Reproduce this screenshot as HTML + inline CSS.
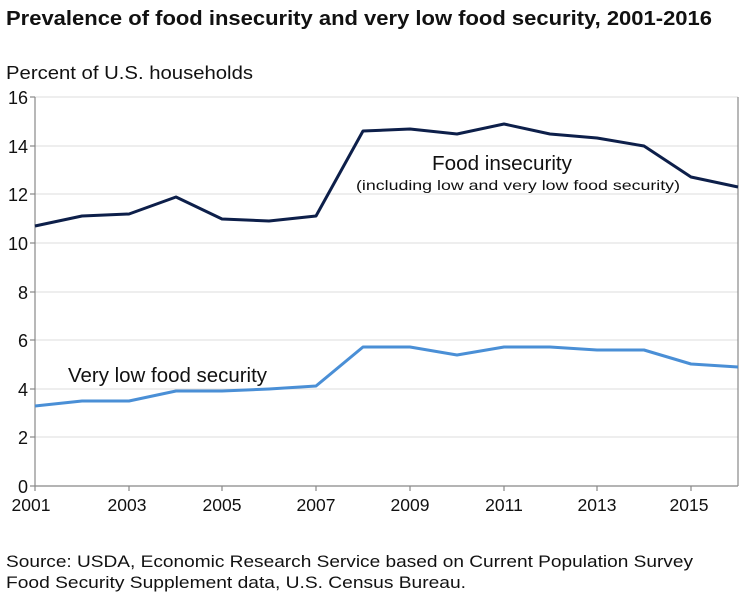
<!DOCTYPE html>
<html><head><meta charset="utf-8"><style>
body{margin:0;background:#fff;width:754px;height:603px;overflow:hidden;font-family:"Liberation Sans",sans-serif}
</style></head><body>
<svg width="754" height="603" xmlns="http://www.w3.org/2000/svg" font-family="Liberation Sans, sans-serif">
<text x="6" y="25" font-size="20" font-weight="bold" fill="#111" textLength="706" lengthAdjust="spacingAndGlyphs">Prevalence of food insecurity and very low food security, 2001-2016</text>
<text x="6" y="79" font-size="18.5" fill="#111" textLength="247" lengthAdjust="spacingAndGlyphs">Percent of U.S. households</text>
<g stroke="#ddd" stroke-width="1">
<line x1="35" x2="738" y1="97" y2="97"/><line x1="35" x2="738" y1="146" y2="146"/>
<line x1="35" x2="738" y1="194" y2="194"/><line x1="35" x2="738" y1="243" y2="243"/>
<line x1="35" x2="738" y1="292" y2="292"/><line x1="35" x2="738" y1="340" y2="340"/>
<line x1="35" x2="738" y1="389" y2="389"/><line x1="35" x2="738" y1="437" y2="437"/>
</g>
<g stroke="#888" stroke-width="1.2">
<line x1="35" x2="35" y1="97" y2="486"/><line x1="35" x2="738" y1="486" y2="486"/>
<line x1="738" x2="738" y1="97" y2="486"/>
<line x1="30" x2="35" y1="97" y2="97"/><line x1="30" x2="35" y1="146" y2="146"/><line x1="30" x2="35" y1="194" y2="194"/><line x1="30" x2="35" y1="243" y2="243"/><line x1="30" x2="35" y1="292" y2="292"/><line x1="30" x2="35" y1="340" y2="340"/><line x1="30" x2="35" y1="389" y2="389"/><line x1="30" x2="35" y1="437" y2="437"/><line x1="30" x2="35" y1="486" y2="486"/>
<line x1="35" x2="35" y1="486" y2="491"/><line x1="129" x2="129" y1="486" y2="491"/><line x1="222" x2="222" y1="486" y2="491"/><line x1="316" x2="316" y1="486" y2="491"/><line x1="410" x2="410" y1="486" y2="491"/><line x1="504" x2="504" y1="486" y2="491"/><line x1="597" x2="597" y1="486" y2="491"/><line x1="691" x2="691" y1="486" y2="491"/>
</g>
<g font-size="18" fill="#111" text-anchor="end">
<text x="28" y="104">16</text><text x="28" y="153">14</text><text x="28" y="201">12</text><text x="28" y="250">10</text><text x="28" y="299">8</text><text x="28" y="347">6</text><text x="28" y="396">4</text><text x="28" y="444">2</text><text x="28" y="493">0</text>
</g>
<g font-size="17.5" fill="#111" text-anchor="middle">
<text x="31" y="511">2001</text><text x="127" y="511">2003</text><text x="222" y="511">2005</text><text x="316" y="511">2007</text><text x="410" y="511">2009</text><text x="504" y="511">2011</text><text x="597" y="511">2013</text><text x="689" y="511">2015</text>
</g>
<polyline fill="none" stroke="#0d1f4a" stroke-width="3" stroke-linejoin="round" points="35,226 82,216 129,214 176,197 222,219 269,221 316,216 363,131 410,129 457,134 504,124 550,134 597,138 644,146 691,177 738,187"/>
<polyline fill="none" stroke="#4a8fd6" stroke-width="3" stroke-linejoin="round" points="35,406 82,401 129,401 176,391 222,391 269,389 316,386 363,347 410,347 457,355 504,347 550,347 597,350 644,350 691,364 738,367"/>
<text x="432" y="170" font-size="20" fill="#111" textLength="140" lengthAdjust="spacingAndGlyphs">Food insecurity</text>
<text x="356" y="190" font-size="14" fill="#111" textLength="324" lengthAdjust="spacingAndGlyphs">(including low and very low food security)</text>
<text x="68" y="382" font-size="20" fill="#111" textLength="199" lengthAdjust="spacingAndGlyphs">Very low food security</text>
<text x="6" y="567" font-size="17" fill="#111" textLength="687" lengthAdjust="spacingAndGlyphs">Source: USDA, Economic Research Service based on Current Population Survey</text>
<text x="6" y="588" font-size="17" fill="#111" textLength="460" lengthAdjust="spacingAndGlyphs">Food Security Supplement data, U.S. Census Bureau.</text>
</svg>
</body></html>
